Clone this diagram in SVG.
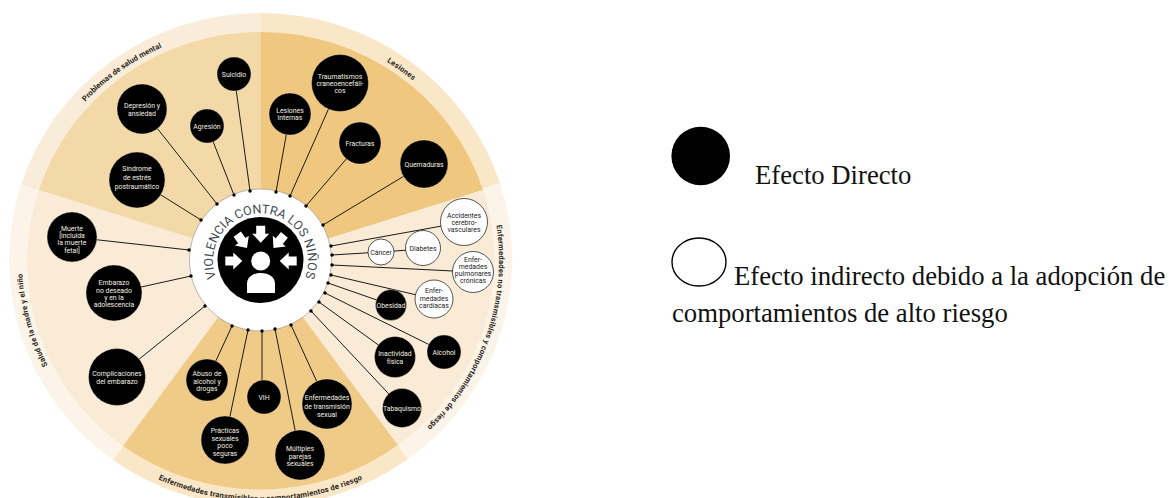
<svg xmlns="http://www.w3.org/2000/svg" width="1169" height="498" viewBox="0 0 1169 498">
<style>
.n{font-family:Roboto,"Liberation Sans",sans-serif;font-size:6.9px;text-anchor:middle}
.d circle{fill:#000;stroke:#e8dcc4;stroke-width:.4}
.d text{fill:#f3efe2}
.w circle{fill:#fff;stroke:#111;stroke-width:.7}
.w text{fill:#1c1c1c}
.ring{font-family:Roboto,"Liberation Sans",sans-serif;font-weight:700;font-size:7.6px;fill:#2b2620;text-anchor:middle;letter-spacing:.2px}
.hubt{font-family:Roboto,"Liberation Sans",sans-serif;font-size:12.5px;fill:#454c54;text-anchor:middle;letter-spacing:.1px}
.leg{font-family:"Liberation Serif","Times New Roman",serif;font-size:26.7px;fill:#111}
#links line{stroke:#1a1a1a;stroke-width:1}
#links circle{fill:#000}
.arr{fill:#fff}
</style>
<defs>
<path id="pProb" d="M42.6 165A238.5 233.5 0 0 1 235.6 27.8"/>
<path id="pLes" d="M285.4 27.8A238.5 233.5 0 0 1 478.4 165"/>
<path id="pSal" d="M91.9 425.1A238.5 233.5 0 0 1 30.1 199.6"/>
<path id="pNo" d="M482.4 174.4A238.5 233.5 0 0 1 385.1 459.1"/>
<path id="pTr" d="M102.4 444.6A246 241 0 0 0 418.6 444.6"/>
<path id="pHub" d="M215.5 276A47.5 47.5 0 1 1 305.5 276"/>
<polygon id="arrow" points="0,0 -9,-8.5 -9,-4.5 -17,-4.5 -17,4.5 -9,4.5 -9,8.5"/>
</defs>

<g id="wheel">
<path d="M260.5 260L21 185A252 247 0 0 1 260.5 13Z" fill="#f9ecd9"/>
<path d="M260.5 260V13A252 247 0 0 1 500 183Z" fill="#f9e7c8"/>
<path d="M260.5 260L21 185A252 247 0 0 0 113 460Z" fill="#fcf4e8"/>
<path d="M260.5 260L113 460A252 247 0 0 0 408 459Z" fill="#f9e7c8"/>
<path d="M260.5 260L408 459A252 247 0 0 0 500 183Z" fill="#fcf4e8"/>
<path d="M260.5 260L39 190A233 228 0 0 1 260.5 32Z" fill="#f3d9a8"/>
<path d="M260.5 260V32A233 228 0 0 1 483 190Z" fill="#f0c77e"/>
<path d="M260.5 260L39 190A233 228 0 0 0 123 446Z" fill="#f9ebd6"/>
<path d="M260.5 260L123 446A233 228 0 0 0 398 445Z" fill="#f0cb87"/>
<path d="M260.5 260L398 445A233 228 0 0 0 483 190Z" fill="#f9ebd6"/>
</g>

<g id="hub">
<circle cx="260.5" cy="260" r="71" fill="#fff" stroke="#8a8a8a" stroke-width=".6"/>
<circle cx="260.5" cy="260" r="43" fill="#000"/>
<text class="hubt"><textPath href="#pHub" startOffset="50%">VIOLENCIA CONTRA LOS NIÑOS</textPath></text>
<circle cx="260.7" cy="261" r="9.5" fill="#fff"/>
<path d="M247 293V284C247 277 253 273 261 273C269 273 275 277 275 284V293Z" fill="#fff"/>
<use href="#arrow" class="arr" transform="translate(242.3 261)"/>
<use href="#arrow" class="arr" transform="translate(279.7 261) rotate(180)"/>
<use href="#arrow" class="arr" transform="translate(260.7 242.7) rotate(90)"/>
<use href="#arrow" class="arr" transform="translate(247 248) rotate(55)"/>
<use href="#arrow" class="arr" transform="translate(273.5 248) rotate(130)"/>
</g>

<g id="links">
<line x1="234" y1="74" x2="250" y2="191"/><circle cx="250" cy="191" r="1.7"/>
<line x1="142" y1="109" x2="217" y2="204"/><circle cx="217" cy="204" r="1.7"/>
<line x1="207" y1="126" x2="234" y2="195"/><circle cx="234" cy="195" r="1.7"/>
<line x1="137" y1="180" x2="201" y2="220"/><circle cx="201" cy="220" r="1.7"/>
<line x1="72" y1="237" x2="189" y2="250"/><circle cx="189" cy="250" r="1.7"/>
<line x1="114" y1="293" x2="191" y2="276"/><circle cx="191" cy="276" r="1.7"/>
<line x1="117" y1="377" x2="205" y2="306"/><circle cx="205" cy="306" r="1.7"/>
<line x1="207" y1="380" x2="232" y2="326"/><circle cx="232" cy="326" r="1.7"/>
<line x1="225" y1="440" x2="248" y2="330"/><circle cx="248" cy="330" r="1.7"/>
<line x1="262" y1="397" x2="262" y2="331"/><circle cx="262" cy="331" r="1.7"/>
<line x1="300" y1="455" x2="275" y2="329"/><circle cx="275" cy="329" r="1.7"/>
<line x1="327" y1="404" x2="291" y2="325"/><circle cx="291" cy="325" r="1.7"/>
<line x1="402" y1="408" x2="311" y2="311"/><circle cx="311" cy="311" r="1.7"/>
<line x1="395" y1="357" x2="319" y2="302"/><circle cx="319" cy="302" r="1.7"/>
<line x1="444" y1="352" x2="325" y2="293"/><circle cx="325" cy="293" r="1.7"/>
<line x1="391" y1="305" x2="328" y2="283"/><circle cx="328" cy="283" r="1.7"/>
<line x1="434" y1="299" x2="331" y2="275"/><circle cx="331" cy="275" r="1.7"/>
<line x1="473" y1="272" x2="332" y2="265"/><circle cx="332" cy="265" r="1.7"/>
<line x1="381" y1="252" x2="332" y2="255"/><circle cx="332" cy="255" r="1.7"/>
<line x1="423" y1="249" x2="381" y2="252"/>
<line x1="464" y1="222" x2="331" y2="246"/><circle cx="331" cy="246" r="1.7"/>
<line x1="424" y1="164" x2="323" y2="225"/><circle cx="323" cy="225" r="1.7"/>
<line x1="360" y1="143" x2="306" y2="206"/><circle cx="306" cy="206" r="1.7"/>
<line x1="340" y1="83" x2="290" y2="196"/><circle cx="290" cy="196" r="1.7"/>
<line x1="290" y1="114" x2="276" y2="192"/><circle cx="276" cy="192" r="1.7"/>
</g>

<g id="ring-labels">
<text class="ring" style="letter-spacing:.05px"><textPath href="#pProb" startOffset="50%">Problemas de salud mental</textPath></text>
<text class="ring"><textPath href="#pLes" startOffset="50%">Lesiones</textPath></text>
<text class="ring" style="letter-spacing:.15px"><textPath href="#pSal" startOffset="50%">Salud de la madre y el niño</textPath></text>
<text class="ring"><textPath href="#pNo" startOffset="50%">Enfermedades no transmisibles y comportamientos de riesgo</textPath></text>
<text class="ring"><textPath href="#pTr" startOffset="50%">Enfermedades transmisibles y comportamientos de riesgo</textPath></text>
</g>

<g id="n-suicidio" class="d"><circle cx="234" cy="74" r="17"/><text class="n" x="234" y="76.5">Suicidio</text></g>
<g id="n-depresion" class="d"><circle cx="142" cy="109" r="25"/><text class="n" x="142" y="108.2">Depresión y</text><text class="n" x="142" y="116.2">ansiedad</text></g>
<g id="n-agresion" class="d"><circle cx="207" cy="126" r="17"/><text class="n" x="207" y="128.5">Agresión</text></g>
<g id="n-sindrome" class="d"><circle cx="137" cy="180" r="28"/><text class="n" x="137" y="171.2">Síndrome</text><text class="n" x="137" y="179.8">de estrés</text><text class="n" x="137" y="188.8">postraumático</text></g>
<g id="n-muerte" class="d"><circle cx="72" cy="237" r="25"/><text class="n" x="72" y="230.5">Muerte</text><text class="n" x="72" y="237.5">[incluida</text><text class="n" x="72" y="245.2">la muerte</text><text class="n" x="72" y="252.5">fetal]</text></g>
<g id="n-embarazo" class="d"><circle cx="114" cy="293" r="28"/><text class="n" x="114" y="284.8">Embarazo</text><text class="n" x="114" y="292.5">no deseado</text><text class="n" x="114" y="299.8">y en la</text><text class="n" x="114" y="307.2">adolescencia</text></g>
<g id="n-complicaciones" class="d"><circle cx="117" cy="377" r="28.5"/><text class="n" x="117" y="376.2">Complicaciones</text><text class="n" x="117" y="383.8">del embarazo</text></g>
<g id="n-abuso" class="d"><circle cx="207" cy="380" r="21"/><text class="n" x="207" y="375.8">Abuso de</text><text class="n" x="207" y="383.5">alcohol y</text><text class="n" x="207" y="391.2">drogas</text></g>
<g id="n-practicas" class="d"><circle cx="225" cy="440" r="24"/><text class="n" x="225" y="432.8">Prácticas</text><text class="n" x="225" y="440.5">sexuales</text><text class="n" x="225" y="448.2">poco</text><text class="n" x="225" y="455.5">seguras</text></g>
<g id="n-vih" class="d"><circle cx="264" cy="397" r="17"/><text class="n" x="264" y="399.5">VIH</text></g>
<g id="n-ets" class="d"><circle cx="327" cy="404" r="25"/><text class="n" x="327" y="399.8">Enfermedades</text><text class="n" x="327" y="408.5">de transmisión</text><text class="n" x="327" y="417.2">sexual</text></g>
<g id="n-multiples" class="d"><circle cx="300" cy="455" r="25"/><text class="n" x="300" y="450.8">Múltiples</text><text class="n" x="300" y="458.5">parejas</text><text class="n" x="300" y="466.2">sexuales</text></g>
<g id="n-tabaquismo" class="d"><circle cx="402" cy="408" r="19.5"/><text class="n" x="402" y="410.5">Tabaquismo</text></g>
<g id="n-inactividad" class="d"><circle cx="395" cy="357" r="20.5"/><text class="n" x="395" y="356.2">Inactividad</text><text class="n" x="395" y="363.5">física</text></g>
<g id="n-alcohol" class="d"><circle cx="444" cy="352" r="17"/><text class="n" x="444" y="354.5">Alcohol</text></g>
<g id="n-obesidad" class="d"><circle cx="391" cy="305" r="15.5"/><text class="n" x="391" y="307.5">Obesidad</text></g>
<g id="n-cardiacas" class="w"><circle cx="434" cy="299" r="19"/><text class="n" x="434" y="292.8">Enfer-</text><text class="n" x="434" y="300.5">medades</text><text class="n" x="434" y="308.2">cardíacas</text></g>
<g id="n-pulmonares" class="w"><circle cx="473" cy="272" r="20.5"/><text class="n" x="473" y="261.5">Enfer-</text><text class="n" x="473" y="268.8">medades</text><text class="n" x="473" y="276.2">pulmonares</text><text class="n" x="473" y="283.2">crónicas</text></g>
<g id="n-cancer" class="w"><circle cx="381" cy="252" r="13"/><text class="n" x="381" y="254.5">Cáncer</text></g>
<g id="n-diabetes" class="w"><circle cx="423" cy="248" r="17.5"/><text class="n" x="423" y="250.5">Diabetes</text></g>
<g id="n-accidentes" class="w"><circle cx="464" cy="222" r="23.5"/><text class="n" x="464" y="217.5">Accidentes</text><text class="n" x="464" y="224.8">cerebro-</text><text class="n" x="464" y="231.8">vasculares</text></g>
<g id="n-traumatismos" class="d"><circle cx="340" cy="83" r="28.5"/><text class="n" x="340" y="78.8">Traumatismos</text><text class="n" x="340" y="86.2">craneoencefáli-</text><text class="n" x="340" y="93.2">cos</text></g>
<g id="n-lesiones" class="d"><circle cx="290" cy="114" r="21"/><text class="n" x="290" y="112.8">Lesiones</text><text class="n" x="290" y="119.8">internas</text></g>
<g id="n-fracturas" class="d"><circle cx="360" cy="143" r="21"/><text class="n" x="360" y="145.5">Fracturas</text></g>
<g id="n-quemaduras" class="d"><circle cx="424" cy="164" r="24"/><text class="n" x="424" y="166.5">Quemaduras</text></g>

<g id="legend-direct"><circle cx="700.7" cy="156" r="29.3" fill="#000"/><text class="leg" x="755" y="184">Efecto Directo</text></g>
<g id="legend-indirect"><ellipse cx="699" cy="262" rx="27" ry="24" fill="#fff" stroke="#000" stroke-width="1.4"/><text class="leg" x="734" y="285">Efecto indirecto debido a la adopción de</text><text class="leg" x="672" y="322">comportamientos de alto riesgo</text></g>
</svg>
